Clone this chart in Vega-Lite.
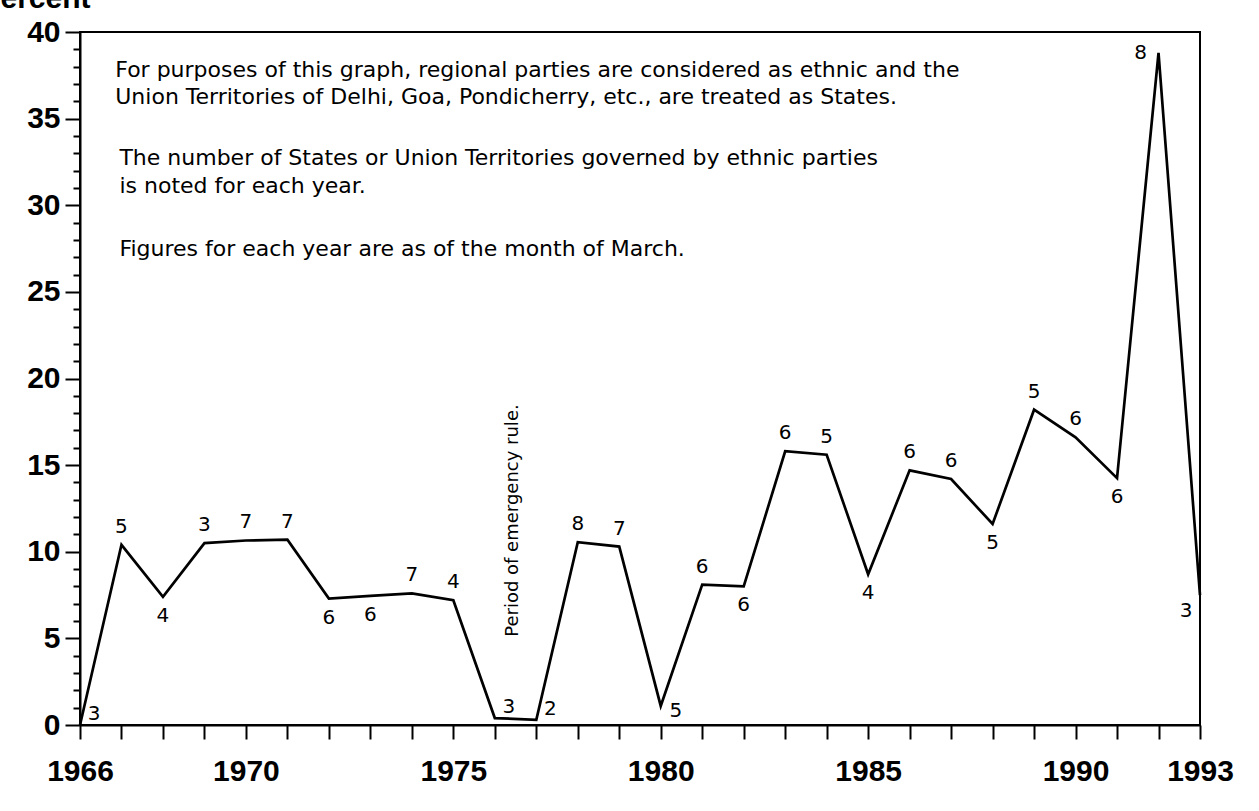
{
  "$schema": "https://vega.github.io/schema/vega-lite/v6.json",
  "width": 1120,
  "height": 693,
  "autosize": "none",
  "padding": {"left": 80, "top": 32, "right": 59, "bottom": 86},
  "background": "white",
  "config": {
    "view": {"stroke": "black", "strokeWidth": 2},
    "font": "DejaVu Sans"
  },
  "datasets": {
    "series": [
      {"year": 1966, "percent": 0, "states": "3"},
      {"year": 1967, "percent": 10.4, "states": "5"},
      {"year": 1968, "percent": 7.4, "states": "4"},
      {"year": 1969, "percent": 10.5, "states": "3"},
      {"year": 1970, "percent": 10.65, "states": "7"},
      {"year": 1971, "percent": 10.7, "states": "7"},
      {"year": 1972, "percent": 7.3, "states": "6"},
      {"year": 1973, "percent": 7.45, "states": "6"},
      {"year": 1974, "percent": 7.6, "states": "7"},
      {"year": 1975, "percent": 7.2, "states": "4"},
      {"year": 1976, "percent": 0.4, "states": "3"},
      {"year": 1977, "percent": 0.3, "states": "2"},
      {"year": 1978, "percent": 10.55, "states": "8"},
      {"year": 1979, "percent": 10.3, "states": "7"},
      {"year": 1980, "percent": 1.1, "states": "5"},
      {"year": 1981, "percent": 8.1, "states": "6"},
      {"year": 1982, "percent": 8.0, "states": "6"},
      {"year": 1983, "percent": 15.8, "states": "6"},
      {"year": 1984, "percent": 15.6, "states": "5"},
      {"year": 1985, "percent": 8.7, "states": "4"},
      {"year": 1986, "percent": 14.7, "states": "6"},
      {"year": 1987, "percent": 14.2, "states": "6"},
      {"year": 1988, "percent": 11.6, "states": "5"},
      {"year": 1989, "percent": 18.2, "states": "5"},
      {"year": 1990, "percent": 16.6, "states": "6"},
      {"year": 1991, "percent": 14.25, "states": "6"},
      {"year": 1992, "percent": 38.8, "states": "8"},
      {"year": 1993, "percent": 7.5, "states": "3"}
    ],
    "notes": [
      {"year": 1966.85, "percent": 37.8, "text": "For purposes of this graph, regional parties are considered as ethnic and the"},
      {"year": 1966.85, "percent": 36.25, "text": "Union Territories of Delhi, Goa, Pondicherry, etc., are treated as States."},
      {"year": 1966.95, "percent": 32.7, "text": "The number of States or Union Territories governed by ethnic parties"},
      {"year": 1966.95, "percent": 31.1, "text": "is noted for each year."},
      {"year": 1966.95, "percent": 27.5, "text": "Figures for each year are as of the month of March."}
    ],
    "emergency": [
      {"year": 1976.43, "percent": 11.8, "text": "Period of emergency rule."}
    ]
  },
  "layer": [
    {
      "data": {"name": "series"},
      "mark": {"type": "line", "color": "black", "strokeWidth": 2.7, "strokeJoin": "miter"},
      "encoding": {
        "x": {
          "field": "year", "type": "quantitative",
          "scale": {"domain": [1966, 1993], "nice": false, "zero": false},
          "axis": {
            "title": null,
            "grid": false,
            "values": [1966,1967,1968,1969,1970,1971,1972,1973,1974,1975,1976,1977,1978,1979,1980,1981,1982,1983,1984,1985,1986,1987,1988,1989,1990,1991,1992,1993],
            "tickCount": 100,
            "format": "d",
            "labelExpr": "(datum.value === 1966 || datum.value === 1970 || datum.value === 1975 || datum.value === 1980 || datum.value === 1985 || datum.value === 1990 || datum.value === 1993) ? datum.label : ''",
            "labelFlush": false,
            "labelOverlap": false,
            "tickSize": 14,
            "tickWidth": 2,
            "tickColor": "black",
            "domainColor": "black",
            "domainWidth": 2,
            "labelFont": "Liberation Sans",
            "labelFontWeight": "bold",
            "labelFontSize": 30,
            "labelColor": "black",
            "labelPadding": 17
          }
        },
        "y": {
          "field": "percent", "type": "quantitative",
          "scale": {"domain": [0, 40], "nice": false},
          "axis": {
            "title": "Percent",
            "titleAngle": 0,
            "titleAlign": "left",
            "titleBaseline": "alphabetic",
            "titleX": -100,
            "titleY": -25,
            "titleFont": "Liberation Sans",
            "titleFontWeight": "bold",
            "titleFontSize": 30,
            "titleColor": "black",
            "grid": false,
            "values": [0,1,2,3,4,5,6,7,8,9,10,11,12,13,14,15,16,17,18,19,20,21,22,23,24,25,26,27,28,29,30,31,32,33,34,35,36,37,38,39,40],
            "tickCount": 100,
            "format": "d",
            "labelExpr": "datum.value % 5 === 0 ? datum.label : ''",
            "labelOverlap": false,
            "labelFlush": false,
            "tickSize": {"condition": {"test": "datum.value % 5 === 0", "value": 15}, "value": 7},
            "tickWidth": 2,
            "tickColor": "black",
            "domainColor": "black",
            "domainWidth": 2,
            "labelFont": "Liberation Sans",
            "labelFontWeight": "bold",
            "labelFontSize": 30,
            "labelColor": "black",
            "labelPadding": 5
          }
        }
      }
    },
    {
      "data": {"name": "series"},
      "transform": [{"filter": {"field": "year", "oneOf": [1967,1969,1970,1971,1974,1975,1978,1979,1981,1983,1984,1986,1987,1989,1990]}}],
      "mark": {"type": "text", "font": "DejaVu Sans", "fontSize": 20, "color": "black", "dy": -18, "baseline": "middle", "align": "center"},
      "encoding": {
        "x": {"field": "year", "type": "quantitative"},
        "y": {"field": "percent", "type": "quantitative"},
        "text": {"field": "states"}
      }
    },
    {
      "data": {"name": "series"},
      "transform": [{"filter": {"field": "year", "oneOf": [1968,1972,1973,1982,1985,1988,1991]}}],
      "mark": {"type": "text", "font": "DejaVu Sans", "fontSize": 20, "color": "black", "dy": 19, "baseline": "middle", "align": "center"},
      "encoding": {
        "x": {"field": "year", "type": "quantitative"},
        "y": {"field": "percent", "type": "quantitative"},
        "text": {"field": "states"}
      }
    },
    {
      "data": {"name": "series"},
      "transform": [{"filter": {"field": "year", "oneOf": [1966,1976,1977]}}],
      "mark": {"type": "text", "font": "DejaVu Sans", "fontSize": 20, "color": "black", "dx": 14, "dy": -11, "baseline": "middle", "align": "center"},
      "encoding": {
        "x": {"field": "year", "type": "quantitative"},
        "y": {"field": "percent", "type": "quantitative"},
        "text": {"field": "states"}
      }
    },
    {
      "data": {"name": "series"},
      "transform": [{"filter": {"field": "year", "oneOf": [1980]}}],
      "mark": {"type": "text", "font": "DejaVu Sans", "fontSize": 20, "color": "black", "dx": 15, "dy": 5, "baseline": "middle", "align": "center"},
      "encoding": {
        "x": {"field": "year", "type": "quantitative"},
        "y": {"field": "percent", "type": "quantitative"},
        "text": {"field": "states"}
      }
    },
    {
      "data": {"name": "series"},
      "transform": [{"filter": {"field": "year", "oneOf": [1992]}}],
      "mark": {"type": "text", "font": "DejaVu Sans", "fontSize": 20, "color": "black", "dx": -18, "dy": 0, "baseline": "middle", "align": "center"},
      "encoding": {
        "x": {"field": "year", "type": "quantitative"},
        "y": {"field": "percent", "type": "quantitative"},
        "text": {"field": "states"}
      }
    },
    {
      "data": {"name": "series"},
      "transform": [{"filter": {"field": "year", "oneOf": [1993]}}],
      "mark": {"type": "text", "font": "DejaVu Sans", "fontSize": 20, "color": "black", "dx": -14, "dy": 16, "baseline": "middle", "align": "center"},
      "encoding": {
        "x": {"field": "year", "type": "quantitative"},
        "y": {"field": "percent", "type": "quantitative"},
        "text": {"field": "states"}
      }
    },
    {
      "data": {"name": "notes"},
      "mark": {"type": "text", "font": "DejaVu Sans", "fontSize": 22, "color": "black", "align": "left", "baseline": "middle"},
      "encoding": {
        "x": {"field": "year", "type": "quantitative"},
        "y": {"field": "percent", "type": "quantitative"},
        "text": {"field": "text"}
      }
    },
    {
      "data": {"name": "emergency"},
      "mark": {"type": "text", "font": "DejaVu Sans", "fontSize": 18, "color": "black", "angle": 270, "align": "center", "baseline": "middle"},
      "encoding": {
        "x": {"field": "year", "type": "quantitative"},
        "y": {"field": "percent", "type": "quantitative"},
        "text": {"field": "text"}
      }
    }
  ]
}
